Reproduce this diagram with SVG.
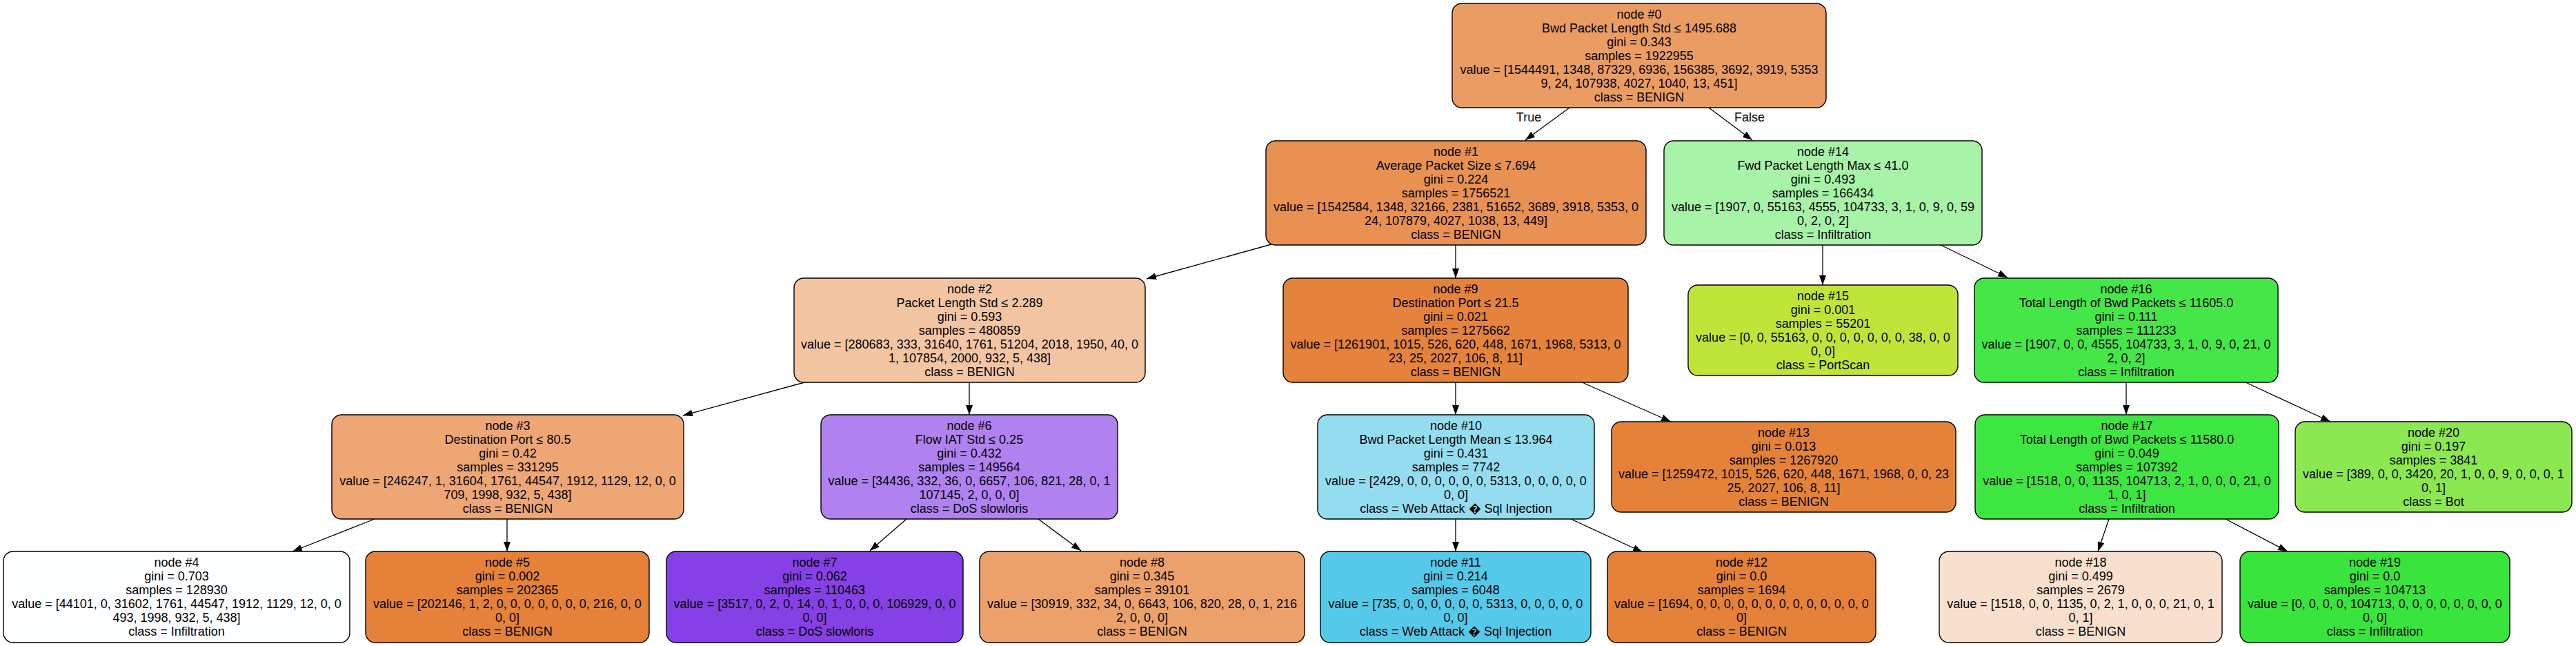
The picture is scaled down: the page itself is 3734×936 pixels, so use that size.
<svg xmlns="http://www.w3.org/2000/svg" width="3734" height="936" viewBox="0 0 3734 936">
<defs>
<style>
.n rect{stroke:#000;stroke-width:1.4}
text{font-family:"Liberation Sans",Arial,Helvetica,sans-serif;font-size:18px;fill:#000;text-anchor:middle}
.e line{stroke:#000;stroke-width:1.3;fill:none;marker-end:url(#ah)}
</style>
<marker id="ah" markerUnits="userSpaceOnUse" markerWidth="14" markerHeight="10" refX="14" refY="5" orient="auto" viewBox="0 0 14 10">
<path d="M0,0 L14,5 L0,10 z" fill="#000"/>
</marker>
</defs>
<rect width="3734" height="936" fill="#fff"/>
<g id="connectors" class="e">
<line x1="2275" y1="156" x2="2211" y2="203"/>
<line x1="2477" y1="156" x2="2540" y2="203"/>
<line x1="1843" y1="354" x2="1662" y2="404"/>
<line x1="2110" y1="354" x2="2110" y2="403"/>
<line x1="2642" y1="354" x2="2642" y2="413"/>
<line x1="2811" y1="354" x2="2910" y2="402"/>
<line x1="1170" y1="553" x2="990" y2="602"/>
<line x1="1405" y1="553" x2="1405" y2="601"/>
<line x1="2110" y1="553" x2="2110" y2="601"/>
<line x1="2291" y1="553" x2="2422" y2="611"/>
<line x1="3082" y1="553" x2="3082" y2="601"/>
<line x1="3253" y1="553" x2="3378" y2="611"/>
<line x1="543" y1="752" x2="424" y2="799"/>
<line x1="735" y1="752" x2="735" y2="799"/>
<line x1="1314" y1="752" x2="1261" y2="798"/>
<line x1="1505" y1="752" x2="1567" y2="798"/>
<line x1="2110" y1="752" x2="2110" y2="799"/>
<line x1="2277" y1="752" x2="2381" y2="800"/>
<line x1="3057" y1="752" x2="3041" y2="799"/>
<line x1="3226" y1="752" x2="3316" y2="799"/>
<text x="2216" y="176">True</text>
<text x="2536" y="176">False</text>
</g>
<g id="node0" class="n"><rect x="2105" y="5" width="542" height="151" rx="14" fill="#eb9c63"/>
<text><tspan x="2376" y="26.5">node #0</tspan><tspan x="2376" y="46.5">Bwd Packet Length Std ≤ 1495.688</tspan><tspan x="2376" y="66.5">gini = 0.343</tspan><tspan x="2376" y="86.5">samples = 1922955</tspan><tspan x="2376" y="106.5">value = [1544491, 1348, 87329, 6936, 156385, 3692, 3919, 5353</tspan><tspan x="2376" y="126.5">9, 24, 107938, 4027, 1040, 13, 451]</tspan><tspan x="2376" y="146.5">class = BENIGN</tspan></text></g>
<g id="node1" class="n"><rect x="1835" y="204" width="551" height="151" rx="14" fill="#e89153"/>
<text><tspan x="2110.5" y="225.5">node #1</tspan><tspan x="2110.5" y="245.5">Average Packet Size ≤ 7.694</tspan><tspan x="2110.5" y="265.5">gini = 0.224</tspan><tspan x="2110.5" y="285.5">samples = 1756521</tspan><tspan x="2110.5" y="305.5">value = [1542584, 1348, 32166, 2381, 51652, 3689, 3918, 5353, 0</tspan><tspan x="2110.5" y="325.5">24, 107879, 4027, 1038, 13, 449]</tspan><tspan x="2110.5" y="345.5">class = BENIGN</tspan></text></g>
<g id="node14" class="n"><rect x="2412" y="204" width="461" height="151" rx="14" fill="#a7f3a8"/>
<text><tspan x="2642.5" y="225.5">node #14</tspan><tspan x="2642.5" y="245.5">Fwd Packet Length Max ≤ 41.0</tspan><tspan x="2642.5" y="265.5">gini = 0.493</tspan><tspan x="2642.5" y="285.5">samples = 166434</tspan><tspan x="2642.5" y="305.5">value = [1907, 0, 55163, 4555, 104733, 3, 1, 0, 9, 0, 59</tspan><tspan x="2642.5" y="325.5">0, 2, 0, 2]</tspan><tspan x="2642.5" y="345.5">class = Infiltration</tspan></text></g>
<g id="node2" class="n"><rect x="1151" y="403" width="509" height="151" rx="14" fill="#f3c5a3"/>
<text><tspan x="1405.5" y="424.5">node #2</tspan><tspan x="1405.5" y="444.5">Packet Length Std ≤ 2.289</tspan><tspan x="1405.5" y="464.5">gini = 0.593</tspan><tspan x="1405.5" y="484.5">samples = 480859</tspan><tspan x="1405.5" y="504.5">value = [280683, 333, 31640, 1761, 51204, 2018, 1950, 40, 0</tspan><tspan x="1405.5" y="524.5">1, 107854, 2000, 932, 5, 438]</tspan><tspan x="1405.5" y="544.5">class = BENIGN</tspan></text></g>
<g id="node9" class="n"><rect x="1860" y="403" width="500" height="151" rx="14" fill="#e5823b"/>
<text><tspan x="2110" y="424.5">node #9</tspan><tspan x="2110" y="444.5">Destination Port ≤ 21.5</tspan><tspan x="2110" y="464.5">gini = 0.021</tspan><tspan x="2110" y="484.5">samples = 1275662</tspan><tspan x="2110" y="504.5">value = [1261901, 1015, 526, 620, 448, 1671, 1968, 5313, 0</tspan><tspan x="2110" y="524.5">23, 25, 2027, 106, 8, 11]</tspan><tspan x="2110" y="544.5">class = BENIGN</tspan></text></g>
<g id="node15" class="n"><rect x="2447" y="413" width="391" height="131" rx="14" fill="#c0e539"/>
<text><tspan x="2642.5" y="434.5">node #15</tspan><tspan x="2642.5" y="454.5">gini = 0.001</tspan><tspan x="2642.5" y="474.5">samples = 55201</tspan><tspan x="2642.5" y="494.5">value = [0, 0, 55163, 0, 0, 0, 0, 0, 0, 0, 38, 0, 0</tspan><tspan x="2642.5" y="514.5">0, 0]</tspan><tspan x="2642.5" y="534.5">class = PortScan</tspan></text></g>
<g id="node16" class="n"><rect x="2862" y="403" width="440" height="151" rx="14" fill="#45e748"/>
<text><tspan x="3082" y="424.5">node #16</tspan><tspan x="3082" y="444.5">Total Length of Bwd Packets ≤ 11605.0</tspan><tspan x="3082" y="464.5">gini = 0.111</tspan><tspan x="3082" y="484.5">samples = 111233</tspan><tspan x="3082" y="504.5">value = [1907, 0, 0, 4555, 104733, 3, 1, 0, 9, 0, 21, 0</tspan><tspan x="3082" y="524.5">2, 0, 2]</tspan><tspan x="3082" y="544.5">class = Infiltration</tspan></text></g>
<g id="node3" class="n"><rect x="481" y="601" width="510" height="151" rx="14" fill="#eda674"/>
<text><tspan x="736" y="622.5">node #3</tspan><tspan x="736" y="642.5">Destination Port ≤ 80.5</tspan><tspan x="736" y="662.5">gini = 0.42</tspan><tspan x="736" y="682.5">samples = 331295</tspan><tspan x="736" y="702.5">value = [246247, 1, 31604, 1761, 44547, 1912, 1129, 12, 0, 0</tspan><tspan x="736" y="722.5">709, 1998, 932, 5, 438]</tspan><tspan x="736" y="742.5">class = BENIGN</tspan></text></g>
<g id="node6" class="n"><rect x="1190" y="601" width="430" height="151" rx="14" fill="#af82ef"/>
<text><tspan x="1405" y="622.5">node #6</tspan><tspan x="1405" y="642.5">Flow IAT Std ≤ 0.25</tspan><tspan x="1405" y="662.5">gini = 0.432</tspan><tspan x="1405" y="682.5">samples = 149564</tspan><tspan x="1405" y="702.5">value = [34436, 332, 36, 0, 6657, 106, 821, 28, 0, 1</tspan><tspan x="1405" y="722.5">107145, 2, 0, 0, 0]</tspan><tspan x="1405" y="742.5">class = DoS slowloris</tspan></text></g>
<g id="node10" class="n"><rect x="1910" y="601" width="401" height="151" rx="14" fill="#94ddf1"/>
<text><tspan x="2110.5" y="622.5">node #10</tspan><tspan x="2110.5" y="642.5">Bwd Packet Length Mean ≤ 13.964</tspan><tspan x="2110.5" y="662.5">gini = 0.431</tspan><tspan x="2110.5" y="682.5">samples = 7742</tspan><tspan x="2110.5" y="702.5">value = [2429, 0, 0, 0, 0, 0, 0, 5313, 0, 0, 0, 0, 0</tspan><tspan x="2110.5" y="722.5">0, 0]</tspan><tspan x="2110.5" y="742.5">class = Web Attack &#xFFFD; Sql Injection</tspan></text></g>
<g id="node13" class="n"><rect x="2336" y="611" width="499" height="131" rx="14" fill="#e5823a"/>
<text><tspan x="2585.5" y="632.5">node #13</tspan><tspan x="2585.5" y="652.5">gini = 0.013</tspan><tspan x="2585.5" y="672.5">samples = 1267920</tspan><tspan x="2585.5" y="692.5">value = [1259472, 1015, 526, 620, 448, 1671, 1968, 0, 0, 23</tspan><tspan x="2585.5" y="712.5">25, 2027, 106, 8, 11]</tspan><tspan x="2585.5" y="732.5">class = BENIGN</tspan></text></g>
<g id="node17" class="n"><rect x="2863" y="601" width="440" height="151" rx="14" fill="#3ee641"/>
<text><tspan x="3083" y="622.5">node #17</tspan><tspan x="3083" y="642.5">Total Length of Bwd Packets ≤ 11580.0</tspan><tspan x="3083" y="662.5">gini = 0.049</tspan><tspan x="3083" y="682.5">samples = 107392</tspan><tspan x="3083" y="702.5">value = [1518, 0, 0, 1135, 104713, 2, 1, 0, 0, 0, 21, 0</tspan><tspan x="3083" y="722.5">1, 0, 1]</tspan><tspan x="3083" y="742.5">class = Infiltration</tspan></text></g>
<g id="node20" class="n"><rect x="3327" y="611" width="401" height="131" rx="14" fill="#8be851"/>
<text><tspan x="3527.5" y="632.5">node #20</tspan><tspan x="3527.5" y="652.5">gini = 0.197</tspan><tspan x="3527.5" y="672.5">samples = 3841</tspan><tspan x="3527.5" y="692.5">value = [389, 0, 0, 3420, 20, 1, 0, 0, 9, 0, 0, 0, 1</tspan><tspan x="3527.5" y="712.5">0, 1]</tspan><tspan x="3527.5" y="732.5">class = Bot</tspan></text></g>
<g id="node4" class="n"><rect x="5" y="799" width="502" height="132" rx="14" fill="#feffff"/>
<text><tspan x="256" y="820.5">node #4</tspan><tspan x="256" y="840.5">gini = 0.703</tspan><tspan x="256" y="860.5">samples = 128930</tspan><tspan x="256" y="880.5">value = [44101, 0, 31602, 1761, 44547, 1912, 1129, 12, 0, 0</tspan><tspan x="256" y="900.5">493, 1998, 932, 5, 438]</tspan><tspan x="256" y="920.5">class = Infiltration</tspan></text></g>
<g id="node5" class="n"><rect x="530" y="799" width="411" height="132" rx="14" fill="#e58139"/>
<text><tspan x="735.5" y="820.5">node #5</tspan><tspan x="735.5" y="840.5">gini = 0.002</tspan><tspan x="735.5" y="860.5">samples = 202365</tspan><tspan x="735.5" y="880.5">value = [202146, 1, 2, 0, 0, 0, 0, 0, 0, 0, 216, 0, 0</tspan><tspan x="735.5" y="900.5">0, 0]</tspan><tspan x="735.5" y="920.5">class = BENIGN</tspan></text></g>
<g id="node7" class="n"><rect x="966" y="799" width="430" height="132" rx="14" fill="#8540e6"/>
<text><tspan x="1181" y="820.5">node #7</tspan><tspan x="1181" y="840.5">gini = 0.062</tspan><tspan x="1181" y="860.5">samples = 110463</tspan><tspan x="1181" y="880.5">value = [3517, 0, 2, 0, 14, 0, 1, 0, 0, 0, 106929, 0, 0</tspan><tspan x="1181" y="900.5">0, 0]</tspan><tspan x="1181" y="920.5">class = DoS slowloris</tspan></text></g>
<g id="node8" class="n"><rect x="1420" y="799" width="471" height="132" rx="14" fill="#eca16b"/>
<text><tspan x="1655.5" y="820.5">node #8</tspan><tspan x="1655.5" y="840.5">gini = 0.345</tspan><tspan x="1655.5" y="860.5">samples = 39101</tspan><tspan x="1655.5" y="880.5">value = [30919, 332, 34, 0, 6643, 106, 820, 28, 0, 1, 216</tspan><tspan x="1655.5" y="900.5">2, 0, 0, 0]</tspan><tspan x="1655.5" y="920.5">class = BENIGN</tspan></text></g>
<g id="node11" class="n"><rect x="1914" y="799" width="392" height="132" rx="14" fill="#54c9e9"/>
<text><tspan x="2110" y="820.5">node #11</tspan><tspan x="2110" y="840.5">gini = 0.214</tspan><tspan x="2110" y="860.5">samples = 6048</tspan><tspan x="2110" y="880.5">value = [735, 0, 0, 0, 0, 0, 0, 5313, 0, 0, 0, 0, 0</tspan><tspan x="2110" y="900.5">0, 0]</tspan><tspan x="2110" y="920.5">class = Web Attack &#xFFFD; Sql Injection</tspan></text></g>
<g id="node12" class="n"><rect x="2330" y="799" width="389" height="132" rx="14" fill="#e58139"/>
<text><tspan x="2524.5" y="820.5">node #12</tspan><tspan x="2524.5" y="840.5">gini = 0.0</tspan><tspan x="2524.5" y="860.5">samples = 1694</tspan><tspan x="2524.5" y="880.5">value = [1694, 0, 0, 0, 0, 0, 0, 0, 0, 0, 0, 0, 0, 0</tspan><tspan x="2524.5" y="900.5">0]</tspan><tspan x="2524.5" y="920.5">class = BENIGN</tspan></text></g>
<g id="node18" class="n"><rect x="2811" y="799" width="410" height="132" rx="14" fill="#f9e0ce"/>
<text><tspan x="3016" y="820.5">node #18</tspan><tspan x="3016" y="840.5">gini = 0.499</tspan><tspan x="3016" y="860.5">samples = 2679</tspan><tspan x="3016" y="880.5">value = [1518, 0, 0, 1135, 0, 2, 1, 0, 0, 0, 21, 0, 1</tspan><tspan x="3016" y="900.5">0, 1]</tspan><tspan x="3016" y="920.5">class = BENIGN</tspan></text></g>
<g id="node19" class="n"><rect x="3247" y="799" width="391" height="132" rx="14" fill="#39e53c"/>
<text><tspan x="3442.5" y="820.5">node #19</tspan><tspan x="3442.5" y="840.5">gini = 0.0</tspan><tspan x="3442.5" y="860.5">samples = 104713</tspan><tspan x="3442.5" y="880.5">value = [0, 0, 0, 0, 104713, 0, 0, 0, 0, 0, 0, 0, 0</tspan><tspan x="3442.5" y="900.5">0, 0]</tspan><tspan x="3442.5" y="920.5">class = Infiltration</tspan></text></g>
</svg>
